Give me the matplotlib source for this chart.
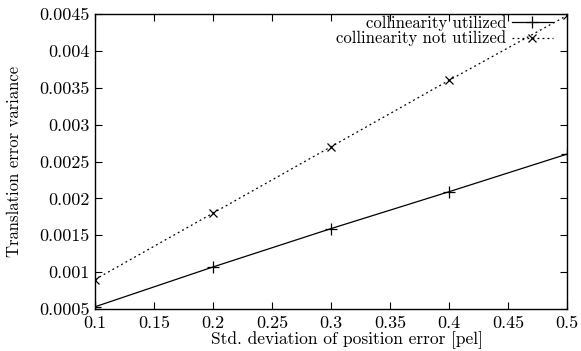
import matplotlib
matplotlib.use("Agg")
import matplotlib.pyplot as plt

plt.rcParams['font.family'] = ['cmr10', 'DejaVu Serif']
plt.rcParams['axes.formatter.use_mathtext'] = True
plt.rcParams['mathtext.fontset'] = 'cm'

x = [0.1, 0.2, 0.3, 0.4, 0.5]
utilized = [0.00053, 0.00107, 0.00159, 0.00209, 0.0026]
not_utilized = [0.0009, 0.0018, 0.0027, 0.0036, 0.00448]
xticks = [0.1, 0.15, 0.2, 0.25, 0.3, 0.35, 0.4, 0.45, 0.5]
xticklabels = ['0.1', '0.15', '0.2', '0.25', '0.3', '0.35', '0.4', '0.45', '0.5']
yticks = [0.0005, 0.001, 0.0015, 0.002, 0.0025, 0.003, 0.0035, 0.004, 0.0045]
yticklabels = ['0.0005', '0.001', '0.0015', '0.002', '0.0025', '0.003', '0.0035', '0.004', '0.0045']

fig = plt.figure(figsize=(5.81, 3.51), dpi=100)
ax = fig.add_axes([95/581, 1 - 309/351, (567-95)/581, (309-14)/351])

ax.plot(x, utilized, color='black', lw=0.9, marker='+', ms=8, mew=0.9,
        label='collinearity utilized')
ax.plot(x, not_utilized, color='black', lw=0.9, ls=(0, (1.5, 2.5)), marker='x', ms=6, mew=0.9,
        label='collinearity not utilized')

ax.set_xlim(0.1, 0.5)
ax.set_ylim(0.0005, 0.0045)
ax.set_xticks(xticks)
ax.set_xticklabels(xticklabels)
ax.set_yticks(yticks)
ax.set_yticklabels(yticklabels)
ax.tick_params(direction='in', top=True, right=True, length=5, width=0.8, labelsize=13)
ax.tick_params(axis='y', pad=4)
ax.tick_params(axis='x', pad=5)
for s in ax.spines.values():
    s.set_linewidth(1.0)

ax.set_xlabel('Std. deviation of position error [pel]', fontsize=12.5, labelpad=0)
ax.xaxis.label.set_x(0.534)
ax.set_ylabel('Translation error variance', fontsize=12, labelpad=12)

leg = ax.legend(loc='upper right', markerfirst=False, frameon=False, fontsize=12,
                handlelength=2.5, handletextpad=0.3, labelspacing=0.0,
                borderaxespad=0.0, bbox_to_anchor=(0.985, 1.02))
for t in leg.get_texts():
    t.set_ha('right')
leg._legend_box.align = 'right'

fig.savefig('out.png', dpi=100)
